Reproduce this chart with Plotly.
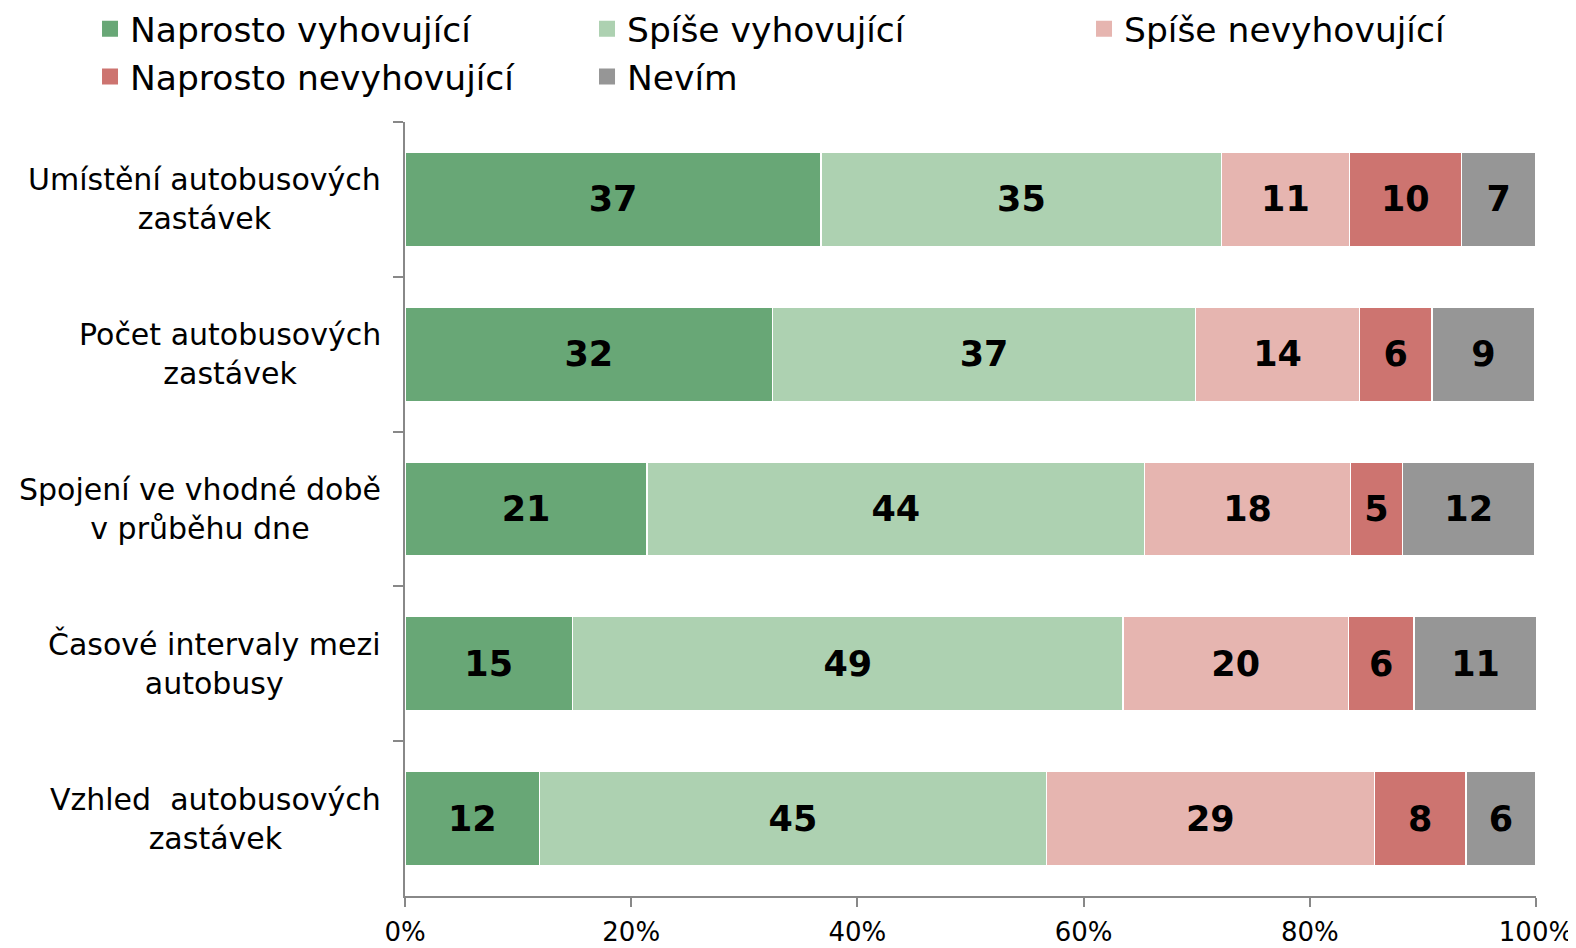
import plotly.graph_objects as go

categories = ["Umístění autobusových<br>zastávek", "Počet autobusových<br>zastávek",
              "Spojení ve vhodné době<br>v průběhu dne", "Časové intervaly mezi<br>autobusy",
              "Vzhled  autobusových<br>zastávek"]
series_names = ["Naprosto vyhovující", "Spíše vyhovující", "Spíše nevyhovující",
                "Naprosto nevyhovující", "Nevím"]
naprosto_vyhovujici = [36.8, 32.5, 21.4, 14.8, 11.9]
spise_vyhovujici = [35.4, 37.4, 44.0, 48.7, 44.8]
spise_nevyhovujici = [11.3, 14.5, 18.2, 19.9, 29.0]
naprosto_nevyhovujici = [9.9, 6.4, 4.6, 5.8, 8.1]
nevim = [6.6, 9.1, 11.7, 10.9, 6.2]
colors = ["#68A776", "#ADD1B1", "#E6B5B0", "#CD7470", "#969696"]
x_ticks = [0, 20, 40, 60, 80, 100]

series = [naprosto_vyhovujici, spise_vyhovujici, spise_nevyhovujici, naprosto_nevyhovujici, nevim]
ids = list(range(len(categories)))

fig = go.Figure()
for name, vals, col in zip(series_names, series, colors):
    fig.add_trace(go.Bar(
        y=ids, x=vals, orientation="h", name=name, showlegend=False,
        marker=dict(color=col, line=dict(color="white", width=1.5)),
        text=[f"{v:.0f}" for v in vals], textposition="inside",
        insidetextanchor="middle", textangle=0, constraintext="none",
        insidetextfont=dict(family="DejaVu Sans", size=35, color="black", weight="bold"),
        hoverinfo="skip",
    ))
# legend entries
for name, col in zip(series_names, colors):
    fig.add_trace(go.Scatter(
        x=[None], y=[None], mode="markers", name=name,
        marker=dict(symbol="square", size=16, color=col),
    ))

for i, c in enumerate(categories):
    fig.add_annotation(xref="paper", yref="y", x=0, y=i, xshift=-22, xanchor="right",
                       yanchor="middle", text=c, align="center", showarrow=False,
                       font=dict(family="DejaVu Sans", size=30, color="black"))

fig.update_layout(
    width=1568, height=940,
    margin=dict(l=397, r=40, t=114, b=52, autoexpand=False),
    barmode="stack", bargap=0.39,
    paper_bgcolor="white", plot_bgcolor="white",
    font=dict(family="DejaVu Sans", color="black"),
    legend=dict(orientation="h", xref="paper", yref="paper", x=-0.2785, y=1.158,
                xanchor="left", yanchor="top", entrywidth=452, entrywidthmode="pixels",
                traceorder="normal", bgcolor="rgba(0,0,0,0)",
                font=dict(family="DejaVu Sans", size=34.5, color="black"),
                tracegroupgap=0, itemclick=False),
    xaxis=dict(range=[0, 100], tickvals=x_ticks, ticktext=[f"{t}%" for t in x_ticks],
               showgrid=False, zeroline=False, showline=True, linecolor="#888888", linewidth=1.5,
               ticks="outside", ticklen=9, tickcolor="#888888", tickwidth=1.5,
               ticklabelstandoff=3,
               tickfont=dict(family="DejaVu Sans", size=26, color="black")),
    yaxis=dict(type="category", range=[4.5, -0.5], showgrid=False, zeroline=False,
               showline=True, linecolor="#888888", linewidth=1.5, ticks="outside",
               tickson="boundaries", ticklen=10, tickcolor="#888888", tickwidth=1.5,
               showticklabels=False),
)
fig.write_html("out.html")
